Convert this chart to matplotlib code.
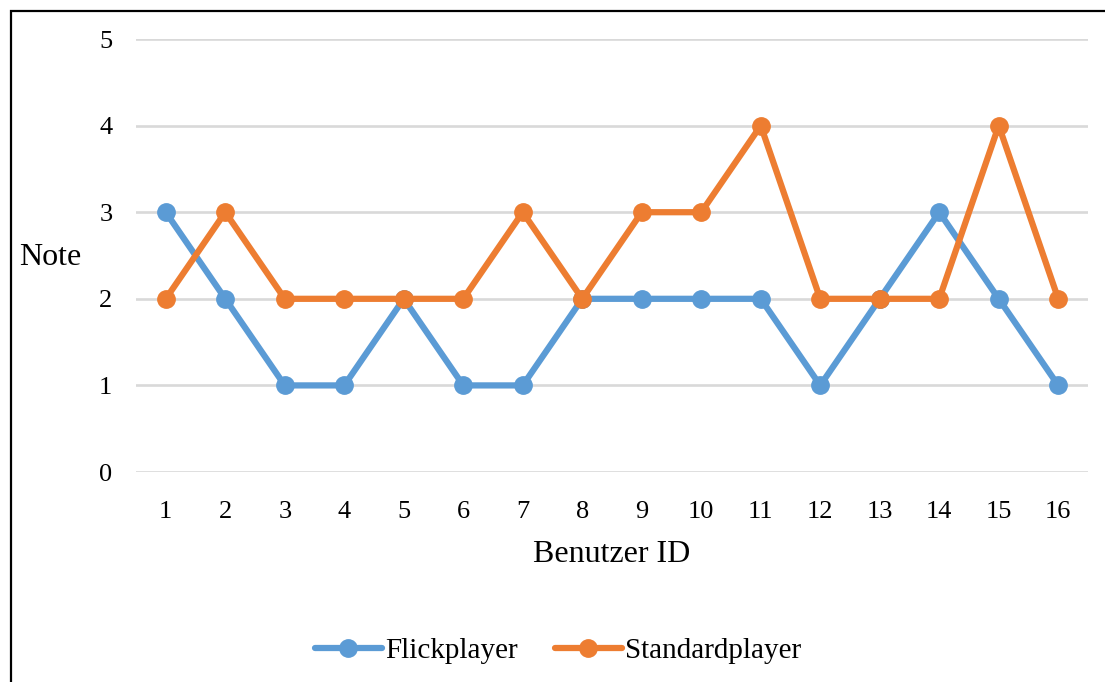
import matplotlib.pyplot as plt
from matplotlib.patches import Rectangle

benutzer = list(range(1, 17))
flickplayer = [3, 2, 1, 1, 2, 1, 1, 2, 2, 2, 2, 1, 2, 3, 2, 1]
standardplayer = [2, 3, 2, 2, 2, 2, 3, 2, 3, 3, 4, 2, 2, 2, 4, 2]

plt.rcParams['font.family'] = ['Liberation Serif', 'DejaVu Serif']

fig = plt.figure(figsize=(11.05, 6.82), dpi=100)
ax = fig.add_axes([0.1231, 0.3079, 0.8615, 0.6349])

blue = '#5B9BD5'
orange = '#ED7D31'

ax.plot(benutzer, flickplayer, color=blue, lw=4.5, marker='o', ms=12.5,
        solid_capstyle='round', label='Flickplayer', zorder=3)
ax.plot(benutzer, standardplayer, color=orange, lw=4.5, marker='o', ms=12.5,
        solid_capstyle='round', label='Standardplayer', zorder=4)

ax.set_xlim(0.5, 16.5)
ax.set_ylim(0, 5)
ax.set_xticks(benutzer)
ax.set_yticks(range(0, 6))
ax.grid(axis='y', color='#d9d9d9', lw=1.9)
ax.set_axisbelow(True)
for s in ax.spines.values():
    s.set_visible(False)
ax.tick_params(length=0, labelsize=19)
ax.tick_params(axis='y', pad=17)
ax.tick_params(axis='x', pad=21)

ax.set_xlabel('Benutzer ID', fontsize=23, labelpad=12)
ax.set_ylabel('Note', fontsize=23, rotation=0, va='center', ha='center')
ax.yaxis.set_label_coords(-0.090, 0.495)

leg = fig.legend(loc='center', bbox_to_anchor=(0.505, 0.046), ncol=2, frameon=False,
                 fontsize=21, handlelength=2.3, columnspacing=1.25, handletextpad=0.12)

# frame around the picture (right and bottom edges are cut off)
fig.patches.append(Rectangle((11 / 1105, -0.1), 1.2, 1 - 11 / 682 + 0.1,
                             transform=fig.transFigure, fill=False,
                             edgecolor='black', lw=1.6))

fig.savefig('out.png', dpi=100)
